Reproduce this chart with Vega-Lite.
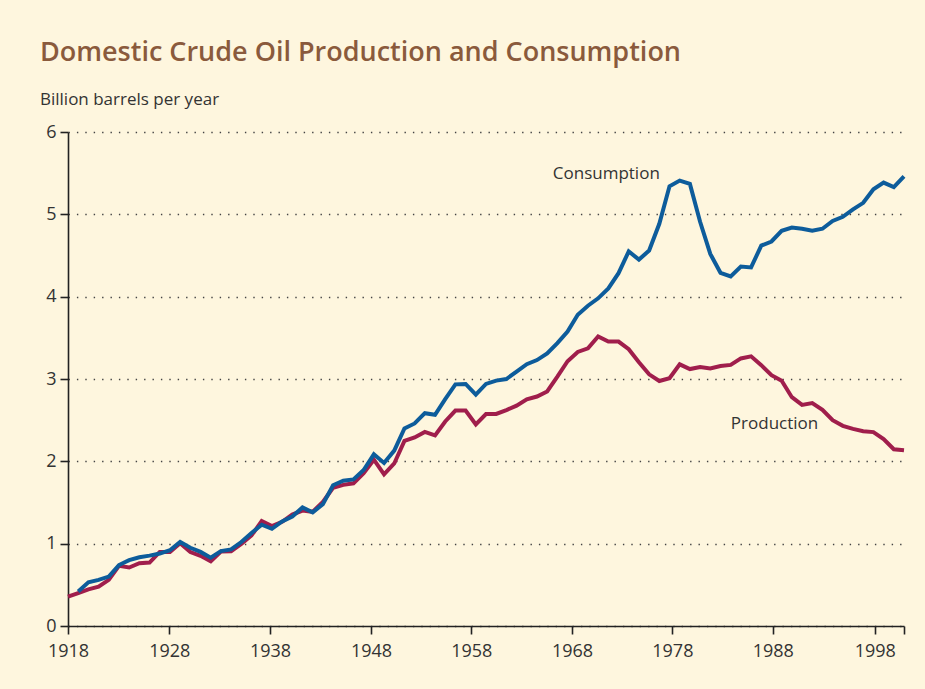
{
  "$schema": "https://vega.github.io/schema/vega-lite/v6.json",
  "autosize": "none",
  "width": 836,
  "height": 494,
  "padding": {"left": 68, "top": 132, "right": 21, "bottom": 63},
  "background": "#fef6de",
  "config": {
    "view": {"stroke": null},
    "font": "Open Sans",
    "axis": {
      "labelFont": "Open Sans",
      "labelFontSize": 18,
      "labelColor": "#333333",
      "domainColor": "#222222",
      "domainWidth": 1.6,
      "tickColor": "#222222",
      "tickWidth": 1.6,
      "tickSize": 8,
      "title": null
    }
  },
  "title": {
    "text": "Domestic Crude Oil Production and Consumption",
    "subtitle": "Billion barrels per year",
    "anchor": "start",
    "frame": "group",
    "dx": -28,
    "offset": 14,
    "font": "Open Sans",
    "fontSize": 27,
    "fontWeight": 600,
    "color": "#8a5a3c",
    "subtitleFont": "Open Sans",
    "subtitleFontSize": 17,
    "subtitleColor": "#333333",
    "subtitlePadding": 25
  },
  "datasets": {
    "oil": [
      {"year": 1918, "series": "Production", "value": 0.356},
      {"year": 1919, "series": "Production", "value": 0.40},
      {"year": 1920, "series": "Production", "value": 0.445},
      {"year": 1921, "series": "Production", "value": 0.477},
      {"year": 1922, "series": "Production", "value": 0.56},
      {"year": 1923, "series": "Production", "value": 0.73},
      {"year": 1924, "series": "Production", "value": 0.71},
      {"year": 1925, "series": "Production", "value": 0.763},
      {"year": 1926, "series": "Production", "value": 0.771},
      {"year": 1927, "series": "Production", "value": 0.90},
      {"year": 1928, "series": "Production", "value": 0.90},
      {"year": 1929, "series": "Production", "value": 1.005},
      {"year": 1930, "series": "Production", "value": 0.898},
      {"year": 1931, "series": "Production", "value": 0.852},
      {"year": 1932, "series": "Production", "value": 0.785},
      {"year": 1933, "series": "Production", "value": 0.905},
      {"year": 1934, "series": "Production", "value": 0.908},
      {"year": 1935, "series": "Production", "value": 0.997},
      {"year": 1936, "series": "Production", "value": 1.10},
      {"year": 1937, "series": "Production", "value": 1.275},
      {"year": 1938, "series": "Production", "value": 1.214},
      {"year": 1939, "series": "Production", "value": 1.265},
      {"year": 1940, "series": "Production", "value": 1.353},
      {"year": 1941, "series": "Production", "value": 1.402},
      {"year": 1942, "series": "Production", "value": 1.387},
      {"year": 1943, "series": "Production", "value": 1.506},
      {"year": 1944, "series": "Production", "value": 1.678},
      {"year": 1945, "series": "Production", "value": 1.714},
      {"year": 1946, "series": "Production", "value": 1.733},
      {"year": 1947, "series": "Production", "value": 1.857},
      {"year": 1948, "series": "Production", "value": 2.02},
      {"year": 1949, "series": "Production", "value": 1.842},
      {"year": 1950, "series": "Production", "value": 1.974},
      {"year": 1951, "series": "Production", "value": 2.248},
      {"year": 1952, "series": "Production", "value": 2.29},
      {"year": 1953, "series": "Production", "value": 2.357},
      {"year": 1954, "series": "Production", "value": 2.315},
      {"year": 1955, "series": "Production", "value": 2.484},
      {"year": 1956, "series": "Production", "value": 2.617},
      {"year": 1957, "series": "Production", "value": 2.617},
      {"year": 1958, "series": "Production", "value": 2.449},
      {"year": 1959, "series": "Production", "value": 2.575},
      {"year": 1960, "series": "Production", "value": 2.575},
      {"year": 1961, "series": "Production", "value": 2.622},
      {"year": 1962, "series": "Production", "value": 2.676},
      {"year": 1963, "series": "Production", "value": 2.753},
      {"year": 1964, "series": "Production", "value": 2.787},
      {"year": 1965, "series": "Production", "value": 2.849},
      {"year": 1966, "series": "Production", "value": 3.028},
      {"year": 1967, "series": "Production", "value": 3.216},
      {"year": 1968, "series": "Production", "value": 3.329},
      {"year": 1969, "series": "Production", "value": 3.372},
      {"year": 1970, "series": "Production", "value": 3.517},
      {"year": 1971, "series": "Production", "value": 3.454},
      {"year": 1972, "series": "Production", "value": 3.455},
      {"year": 1973, "series": "Production", "value": 3.361},
      {"year": 1974, "series": "Production", "value": 3.203},
      {"year": 1975, "series": "Production", "value": 3.057},
      {"year": 1976, "series": "Production", "value": 2.976},
      {"year": 1977, "series": "Production", "value": 3.009},
      {"year": 1978, "series": "Production", "value": 3.178},
      {"year": 1979, "series": "Production", "value": 3.121},
      {"year": 1980, "series": "Production", "value": 3.146},
      {"year": 1981, "series": "Production", "value": 3.129},
      {"year": 1982, "series": "Production", "value": 3.157},
      {"year": 1983, "series": "Production", "value": 3.171},
      {"year": 1984, "series": "Production", "value": 3.25},
      {"year": 1985, "series": "Production", "value": 3.275},
      {"year": 1986, "series": "Production", "value": 3.168},
      {"year": 1987, "series": "Production", "value": 3.047},
      {"year": 1988, "series": "Production", "value": 2.979},
      {"year": 1989, "series": "Production", "value": 2.779},
      {"year": 1990, "series": "Production", "value": 2.685},
      {"year": 1991, "series": "Production", "value": 2.707},
      {"year": 1992, "series": "Production", "value": 2.625},
      {"year": 1993, "series": "Production", "value": 2.499},
      {"year": 1994, "series": "Production", "value": 2.431},
      {"year": 1995, "series": "Production", "value": 2.394},
      {"year": 1996, "series": "Production", "value": 2.366},
      {"year": 1997, "series": "Production", "value": 2.355},
      {"year": 1998, "series": "Production", "value": 2.27},
      {"year": 1999, "series": "Production", "value": 2.147},
      {"year": 2000, "series": "Production", "value": 2.135},
      {"year": 1919, "series": "Consumption", "value": 0.42},
      {"year": 1920, "series": "Consumption", "value": 0.53},
      {"year": 1921, "series": "Consumption", "value": 0.56},
      {"year": 1922, "series": "Consumption", "value": 0.60},
      {"year": 1923, "series": "Consumption", "value": 0.74},
      {"year": 1924, "series": "Consumption", "value": 0.80},
      {"year": 1925, "series": "Consumption", "value": 0.835},
      {"year": 1926, "series": "Consumption", "value": 0.855},
      {"year": 1927, "series": "Consumption", "value": 0.88},
      {"year": 1928, "series": "Consumption", "value": 0.92},
      {"year": 1929, "series": "Consumption", "value": 1.02},
      {"year": 1930, "series": "Consumption", "value": 0.95},
      {"year": 1931, "series": "Consumption", "value": 0.90},
      {"year": 1932, "series": "Consumption", "value": 0.83},
      {"year": 1933, "series": "Consumption", "value": 0.91},
      {"year": 1934, "series": "Consumption", "value": 0.93},
      {"year": 1935, "series": "Consumption", "value": 1.02},
      {"year": 1936, "series": "Consumption", "value": 1.13},
      {"year": 1937, "series": "Consumption", "value": 1.23},
      {"year": 1938, "series": "Consumption", "value": 1.18},
      {"year": 1939, "series": "Consumption", "value": 1.27},
      {"year": 1940, "series": "Consumption", "value": 1.33},
      {"year": 1941, "series": "Consumption", "value": 1.44},
      {"year": 1942, "series": "Consumption", "value": 1.38},
      {"year": 1943, "series": "Consumption", "value": 1.48},
      {"year": 1944, "series": "Consumption", "value": 1.71},
      {"year": 1945, "series": "Consumption", "value": 1.765},
      {"year": 1946, "series": "Consumption", "value": 1.78},
      {"year": 1947, "series": "Consumption", "value": 1.895},
      {"year": 1948, "series": "Consumption", "value": 2.085},
      {"year": 1949, "series": "Consumption", "value": 1.98},
      {"year": 1950, "series": "Consumption", "value": 2.13},
      {"year": 1951, "series": "Consumption", "value": 2.40},
      {"year": 1952, "series": "Consumption", "value": 2.46},
      {"year": 1953, "series": "Consumption", "value": 2.585},
      {"year": 1954, "series": "Consumption", "value": 2.565},
      {"year": 1955, "series": "Consumption", "value": 2.755},
      {"year": 1956, "series": "Consumption", "value": 2.935},
      {"year": 1957, "series": "Consumption", "value": 2.94},
      {"year": 1958, "series": "Consumption", "value": 2.81},
      {"year": 1959, "series": "Consumption", "value": 2.94},
      {"year": 1960, "series": "Consumption", "value": 2.98},
      {"year": 1961, "series": "Consumption", "value": 3.0},
      {"year": 1962, "series": "Consumption", "value": 3.09},
      {"year": 1963, "series": "Consumption", "value": 3.18},
      {"year": 1964, "series": "Consumption", "value": 3.23},
      {"year": 1965, "series": "Consumption", "value": 3.31},
      {"year": 1966, "series": "Consumption", "value": 3.435},
      {"year": 1967, "series": "Consumption", "value": 3.575},
      {"year": 1968, "series": "Consumption", "value": 3.78},
      {"year": 1969, "series": "Consumption", "value": 3.89},
      {"year": 1970, "series": "Consumption", "value": 3.98},
      {"year": 1971, "series": "Consumption", "value": 4.10},
      {"year": 1972, "series": "Consumption", "value": 4.285},
      {"year": 1973, "series": "Consumption", "value": 4.55},
      {"year": 1974, "series": "Consumption", "value": 4.45},
      {"year": 1975, "series": "Consumption", "value": 4.56},
      {"year": 1976, "series": "Consumption", "value": 4.885},
      {"year": 1977, "series": "Consumption", "value": 5.34},
      {"year": 1978, "series": "Consumption", "value": 5.41},
      {"year": 1979, "series": "Consumption", "value": 5.37},
      {"year": 1980, "series": "Consumption", "value": 4.91},
      {"year": 1981, "series": "Consumption", "value": 4.52},
      {"year": 1982, "series": "Consumption", "value": 4.29},
      {"year": 1983, "series": "Consumption", "value": 4.245},
      {"year": 1984, "series": "Consumption", "value": 4.365},
      {"year": 1985, "series": "Consumption", "value": 4.355},
      {"year": 1986, "series": "Consumption", "value": 4.62},
      {"year": 1987, "series": "Consumption", "value": 4.67},
      {"year": 1988, "series": "Consumption", "value": 4.80},
      {"year": 1989, "series": "Consumption", "value": 4.84},
      {"year": 1990, "series": "Consumption", "value": 4.825},
      {"year": 1991, "series": "Consumption", "value": 4.80},
      {"year": 1992, "series": "Consumption", "value": 4.825},
      {"year": 1993, "series": "Consumption", "value": 4.92},
      {"year": 1994, "series": "Consumption", "value": 4.97},
      {"year": 1995, "series": "Consumption", "value": 5.06},
      {"year": 1996, "series": "Consumption", "value": 5.14},
      {"year": 1997, "series": "Consumption", "value": 5.305},
      {"year": 1998, "series": "Consumption", "value": 5.385},
      {"year": 1999, "series": "Consumption", "value": 5.33},
      {"year": 2000, "series": "Consumption", "value": 5.46}
    ],
    "labels": [
      {"year": 1970.8, "value": 5.49, "label": "Consumption"},
      {"year": 1987.3, "value": 2.45, "label": "Production"}
    ]
  },
  "layer": [
    {
      "data": {"name": "oil"},
      "mark": {"type": "line", "strokeWidth": 4, "strokeJoin": "miter", "strokeCap": "butt"},
      "encoding": {
        "x": {
          "field": "year",
          "type": "quantitative",
          "scale": {"domain": [1918, 2000], "nice": false, "zero": false},
          "axis": {
            "values": [1918, 1927.93, 1937.81, 1947.72, 1957.56, 1967.44, 1977.28, 1987.13, 1997.13, 2000],
            "labelExpr": "datum.value > 1999 ? '' : format(1918 + 10 * round((datum.value - 1918) / 10), 'd')",
            "grid": false,
            "labelPadding": 8,
            "labelFlush": false,
            "labelOverlap": false
          }
        },
        "y": {
          "field": "value",
          "type": "quantitative",
          "scale": {"domain": [0, 6], "nice": false},
          "axis": {
            "values": [0, 1, 2, 3, 4, 5, 6],
            "format": "d",
            "grid": true,
            "gridColor": "#444444",
            "gridWidth": 1.4,
            "gridDash": [1.4, 7],
            "labelPadding": 4
          }
        },
        "color": {
          "field": "series",
          "type": "nominal",
          "scale": {"domain": ["Consumption", "Production"], "range": ["#0d5c9b", "#a01e4c"]},
          "legend": null
        },
        "order": {"field": "year", "type": "quantitative"}
      }
    },
    {
      "data": {"name": "labels"},
      "mark": {"type": "text", "font": "Open Sans", "fontSize": 17, "color": "#333333", "align": "center", "baseline": "middle"},
      "encoding": {
        "x": {"field": "year", "type": "quantitative"},
        "y": {"field": "value", "type": "quantitative"},
        "text": {"field": "label"}
      }
    }
  ]
}
